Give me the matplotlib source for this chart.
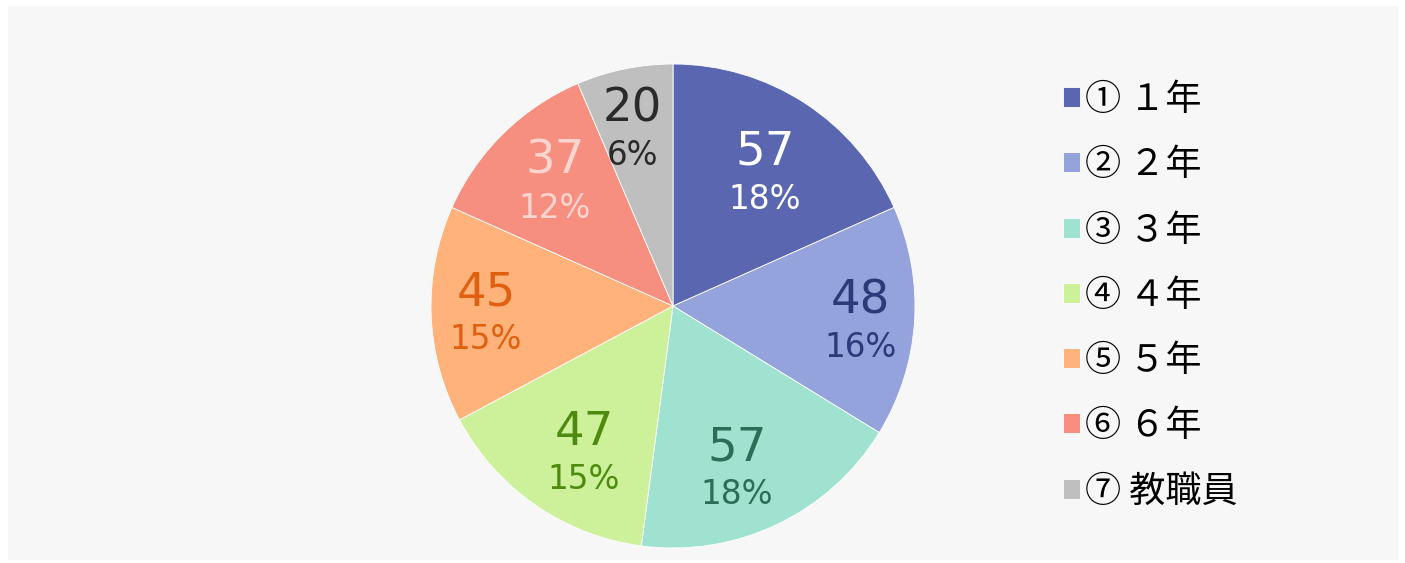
import numpy as np
import matplotlib.pyplot as plt
from matplotlib.patches import Rectangle

plt.rcParams['font.family'] = ['Noto Sans CJK JP', 'DejaVu Sans']

# data
labels = ['① １年', '② ２年', '③ ３年', '④ ４年', '⑤ ５年', '⑥ ６年', '⑦ 教職員']
counts = [57, 48, 57, 47, 45, 37, 20]
pct_labels = ['18%', '16%', '18%', '15%', '15%', '12%', '6%']
colors = ['#5a67b0', '#95a3dd', '#a0e2d0', '#ccf19a', '#ffb27a', '#f78f80', '#bfbfbf']
text_colors = ['#ffffff', '#2b3a78', '#2a6e58', '#4f8a10', '#e06010', '#fcd5cf', '#2a2a2a']

# label placement (fraction of radius, angle nudge in degrees)
label_r = [0.677, 0.778, 0.712, 0.701, 0.773, 0.715, 0.759]
label_dang = [-1.2, -0.2, -3.7, 3.1, -0.6, -1.6, 1.3]

W, H = 1405, 563
fig = plt.figure(figsize=(W / 100, H / 100), dpi=100, facecolor='white')

# light gray panel
fig.patches.append(Rectangle((8 / W, 3 / H), 1390 / W, 554 / H,
                             transform=fig.transFigure, facecolor='#f7f7f7',
                             edgecolor='none', zorder=-5))

cx, cy, R = 673, 306, 242
ax = fig.add_axes([(cx - R) / W, (H - cy - R) / H, 2 * R / W, 2 * R / H])
ax.set_facecolor('none')

wedges, _ = ax.pie(counts, colors=colors, startangle=90, counterclock=False,
                   radius=1, wedgeprops=dict(edgecolor='white', linewidth=0.6))
ax.set_xlim(-1, 1)
ax.set_ylim(-1, 1)
ax.set_aspect('equal')
ax.axis('off')

for w, n, p, tc, r, da in zip(wedges, counts, pct_labels, text_colors, label_r, label_dang):
    mid = np.deg2rad((w.theta1 + w.theta2) / 2 + da)
    x, y = r * np.cos(mid), r * np.sin(mid)
    ax.annotate(str(n), (x, y), xytext=(0, 4), textcoords='offset points',
                color=tc, fontsize=33.6, ha='center', va='baseline',
                family=['DejaVu Sans'])
    ax.annotate(p, (x, y), xytext=(0, -27.7), textcoords='offset points',
                color=tc, fontsize=23.5, ha='center', va='baseline',
                family=['DejaVu Sans'])

leg = fig.legend(wedges, labels, loc='upper left',
                 bbox_to_anchor=(1030.5 / W, 1 - 49.5 / H),
                 frameon=False, fontsize=26, handlelength=0.47, handleheight=0.47,
                 handletextpad=0.15, labelspacing=0.81)

fig.savefig('out.png', dpi=100, facecolor='white')
